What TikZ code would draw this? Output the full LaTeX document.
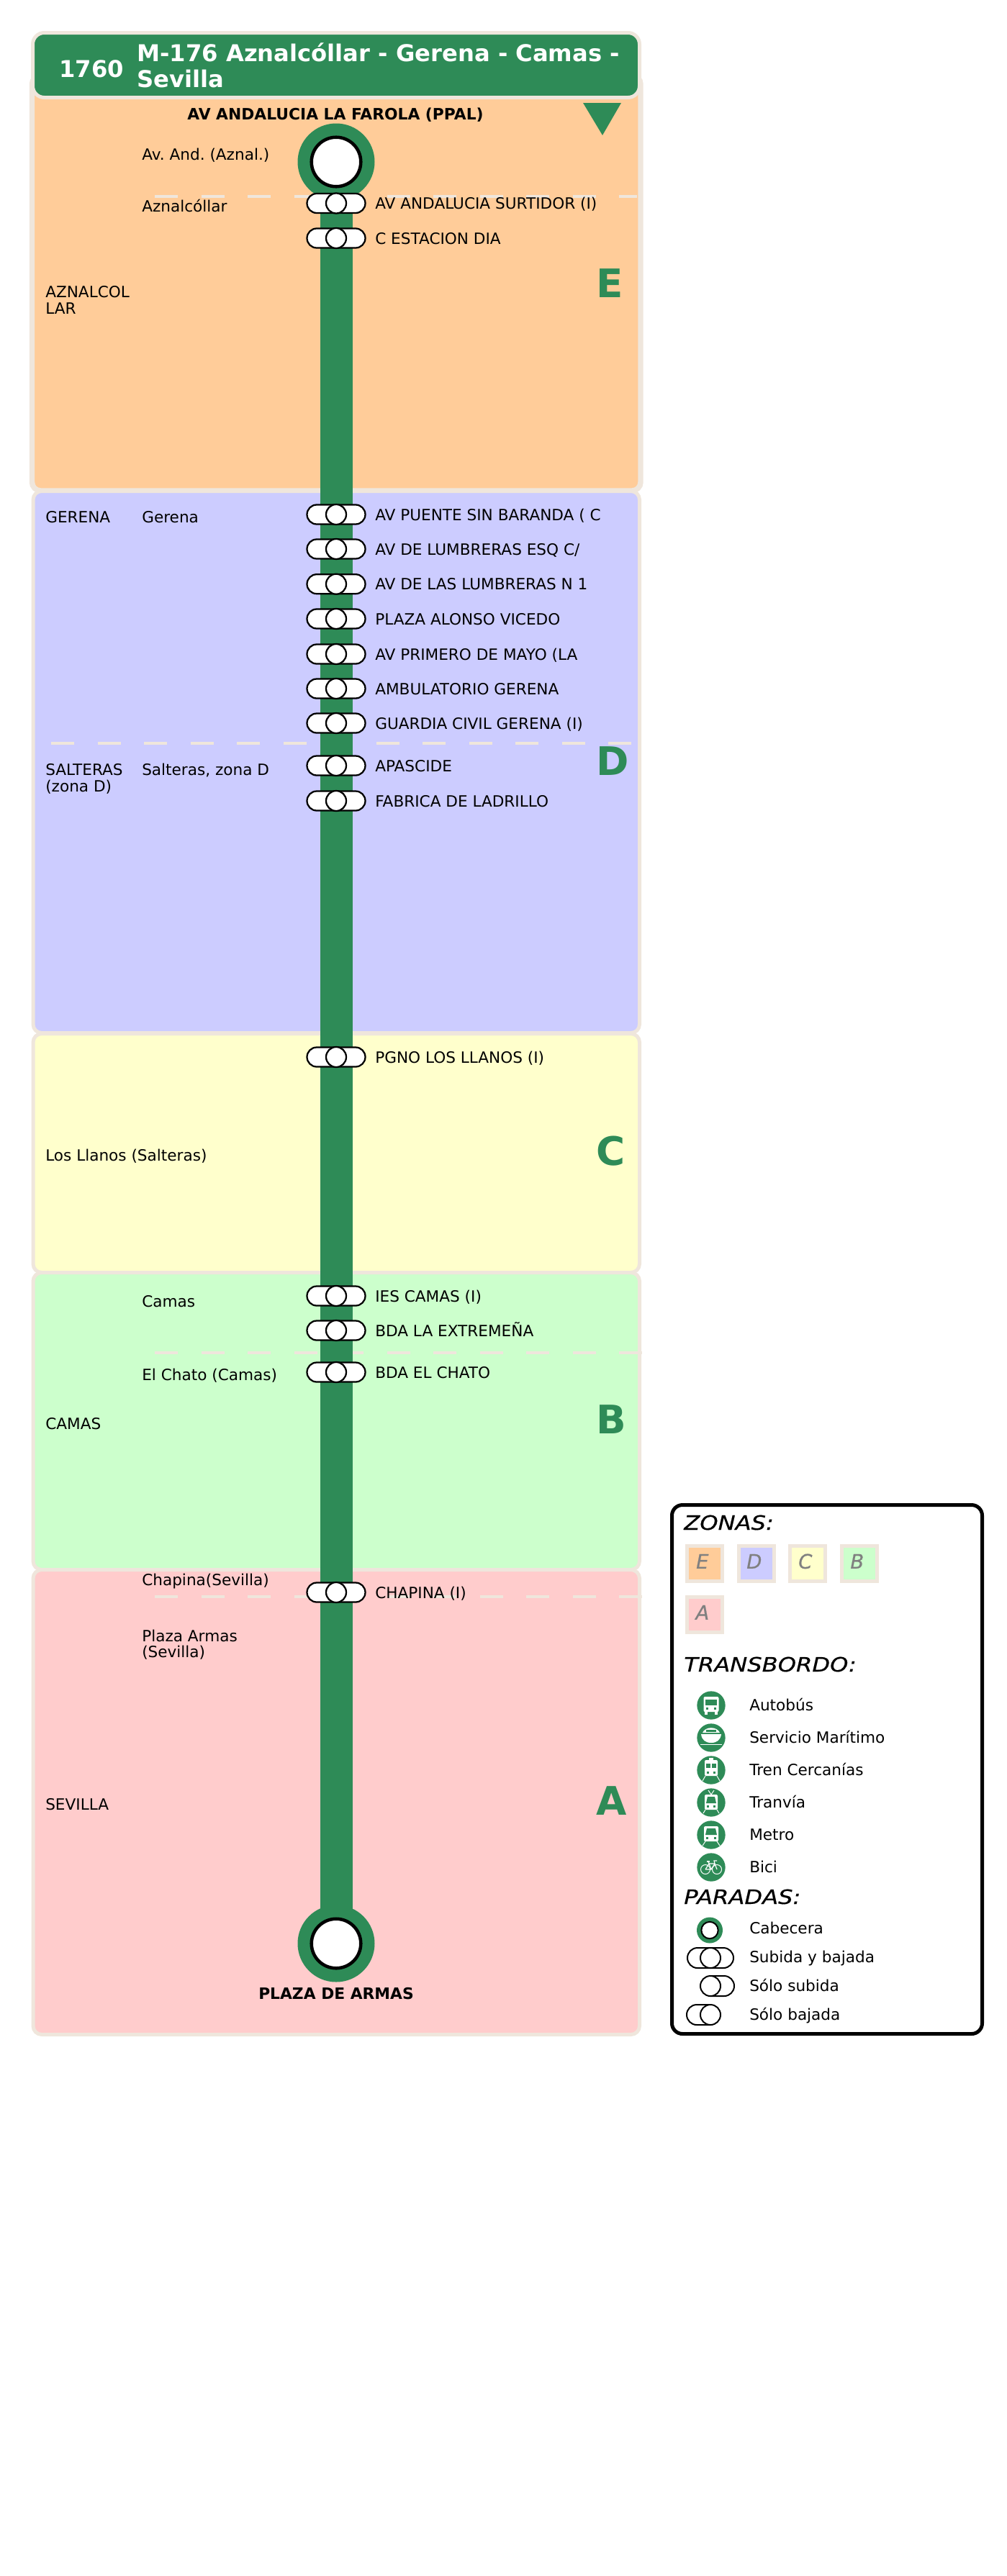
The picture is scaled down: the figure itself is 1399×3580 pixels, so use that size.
\documentclass[tikz,border=0pt]{standalone}
\usepackage{fontspec}
\setmainfont{DejaVu Sans}
\newfontface\legendface{DejaVu Sans Oblique}[FakeBold=0.5]
\usetikzlibrary{shapes.misc}
\definecolor{linegreen}{HTML}{2E8B57}
\definecolor{zoneedge}{HTML}{EFE6DC}
\definecolor{zoneE}{HTML}{FFCC99}
\definecolor{zoneD}{HTML}{CCCCFF}
\definecolor{zoneC}{HTML}{FFFFCC}
\definecolor{zoneB}{HTML}{CCFFCC}
\definecolor{zoneA}{HTML}{FFCCCC}
\tikzset{
    zonebox/.style={draw=zoneedge,line width=3.75pt,rounded corners=9pt},
    zonedash/.style={draw=zoneedge,line width=3pt,dash pattern=on 24pt off 24.4pt},
    spine/.style={draw=linegreen,line width=33.75pt},
    termdisc/.style={circle,fill=linegreen,inner sep=0pt,minimum size=80.25pt},
    termring/.style={circle,draw=black,fill=white,line width=3.4pt,inner sep=0pt,minimum size=51.4pt},
    stoppill/.style={rounded rectangle,draw=black,fill=white,line width=1.7pt,inner sep=0pt,minimum width=60.75pt,minimum height=20.25pt},
    stopring/.style={circle,draw=black,fill=white,line width=1.7pt,inner sep=0pt,minimum size=21pt},
    smalltext/.style={inner sep=0pt,anchor=base west,align=left,font=\fontsize{16.2}{17.6}\selectfont\frenchspacing},
    boldtext/.style={inner sep=0pt,anchor=base,font=\fontsize{16.35}{17.6}\selectfont\bfseries\frenchspacing},
    hugeletter/.style={inner sep=0pt,anchor=base west,text=linegreen,font=\fontsize{41}{41}\selectfont\bfseries},
    headtext/.style={inner sep=0pt,anchor=base west,align=left,text=white,font=\fontsize{24.15}{26.5}\selectfont\bfseries},
    legendhead/.style={inner sep=0pt,anchor=base west,xscale=1.17,font=\fontsize{20.6}{20.6}\legendface},
    legendzone/.style={draw=zoneedge,line width=3.75pt,minimum size=36.75pt,inner sep=0pt},
    legendletter/.style={inner sep=0pt,text=gray,font=\fontsize{20.6}{20.6}\legendface},
    transfer/.style={circle,fill=linegreen,inner sep=0pt,minimum size=29.5pt},
    legendpill/.style={rounded rectangle,draw=black,line width=1.5pt,inner sep=0pt,minimum height=21pt},
    legendring/.style={circle,draw=black,fill=white,line width=1.5pt,inner sep=0pt,minimum size=21pt},
    busicon/.pic={
        \fill[white,rounded corners=1.5pt] (-10.5,-12) rectangle (10.5,9);
        \fill[linegreen] (-8,-8) rectangle (8,0);
        \fill[linegreen] (-7,3) rectangle (-4,6);
        \fill[linegreen] (4,3) rectangle (7,6);
        \fill[white] (-9,9) rectangle (-5,13);
        \fill[white] (5,9) rectangle (9,13);
    },
    boaticon/.pic={
        \fill[white] (-12,-7) .. controls (-8,-16) and (8,-16) .. (12,-7) -- cycle;
        \fill[linegreen] (-7,-11) rectangle (7,-8);
        \fill[white] (-14,-5) -- (14,-5) .. controls (13,3) and (8,7) .. (0,7) .. controls (-8,7) and (-13,3) .. (-14,-5) -- cycle;
        \draw[white,line width=0.75pt] (-15,9) -- (15,9);
    },
    trainicon/.pic={
        \fill[white,rounded corners=1.5pt] (-9,-14) rectangle (9,8);
        \fill[white] (-3,-17) rectangle (3,-14);
        \fill[linegreen] (-7,-9) rectangle (-1,-3);
        \fill[linegreen] (1,-9) rectangle (7,-3);
        \fill[linegreen] (-6,2) rectangle (-3,5);
        \fill[linegreen] (3,2) rectangle (6,5);
        \draw[white,line width=0.75pt] (-8,8) -- (-12,15);
        \draw[white,line width=0.75pt] (8,8) -- (12,15);
    },
    tramicon/.pic={
        \fill[white,rounded corners=1.5pt] (-9,-11) rectangle (9,10);
        \draw[white,line width=0.75pt] (-4,-17) -- (0,-11) -- (4,-17);
        \fill[linegreen] (-5,-8) -- (5,-8) -- (7,1) -- (-7,1) -- cycle;
        \fill[linegreen] (-6,4) rectangle (-3,7);
        \fill[linegreen] (3,4) rectangle (6,7);
        \draw[white,line width=0.75pt] (-8,10) -- (-11,15);
        \draw[white,line width=0.75pt] (8,10) -- (11,15);
    },
    metroicon/.pic={
        \fill[white,rounded corners=1.5pt] (-10,-12) rectangle (10,9);
        \fill[linegreen] (-6,-9) -- (6,-9) -- (8,0) -- (-8,0) -- cycle;
        \fill[linegreen] (-7,3) rectangle (-4,6);
        \fill[linegreen] (4,3) rectangle (7,6);
        \draw[white,line width=0.75pt] (-8,9) -- (-12,15);
        \draw[white,line width=0.75pt] (8,9) -- (12,15);
    },
    bikeicon/.pic={
        \draw[white,line width=0.75pt] (-8,3) circle (6.5);
        \draw[white,line width=0.75pt] (8,3) circle (6.5);
        \draw[white,line width=0.9pt] (-8,3) -- (-3,-5) -- (5,-5) -- (8,3);
        \draw[white,line width=0.9pt] (-8,3) -- (0,3) -- (5,-5);
        \draw[white,line width=0.9pt] (0,3) -- (-4,-8);
        \draw[white,line width=0.9pt] (-6,-8) -- (-2,-8);
        \draw[white,line width=0.9pt] (5,-5) -- (4,-9) -- (8,-9);
    }
}
\begin{document}
\begin{tikzpicture}[x=0.75pt,y=-0.75pt]
    \useasboundingbox (0,0) rectangle (1399,3580);

    \draw[zonebox,fill=zoneE,line width=5.6pt] (44.5,105) rectangle (890,682);
    \draw[zonebox,fill=zoneD] (46,682.5) rectangle (888.5,1435.5);
    \draw[zonebox,fill=zoneC] (46,1436.5) rectangle (888.5,1768.5);
    \draw[zonebox,fill=zoneB] (46,1768.5) rectangle (888.5,2181.5);
    \draw[zonebox,fill=zoneA] (46,2181.5) rectangle (888.5,2827.5);

    \foreach \xa/\y/\xb in {215/273/885,71/1033/879,215/1880/893,215/2219/893}
        \draw[zonedash] (\xa,\y) -- (\xb,\y);

    \draw[zonebox,fill=linegreen,rounded corners=12pt] (45.5,45.5) rectangle (888.5,135.5);
    \node[headtext] (linecode) at (82,107) {1760};
    \node[headtext] (linename) at (190,121) {M-176 Aznalcóllar - Gerena - Camas -\\Sevilla};

    \fill[linegreen] (810,143) -- (863,143) -- (837,188) -- cycle;

    \node[termdisc] (termtop) at (467,225) {};
    \node[termdisc] (termbot) at (467,2701) {};
    \draw[spine] (termtop.center) -- (termbot.center);
    \node[termring] (ringtop) at (termtop) {};
    \node[termring] (ringbot) at (termbot) {};
    \node[boldtext] (nametop) at (466,166) {AV ANDALUCIA LA FAROLA (PPAL)};
    \node[boldtext] (namebot) at (467,2778) {PLAZA DE ARMAS};

    \foreach \n/\y/\name in {
        1/282.5/{AV ANDALUCIA SURTIDOR (I)},
        2/331/{C ESTACION DIA},
        3/715/{AV PUENTE SIN BARANDA ( C},
        4/763/{AV DE LUMBRERAS ESQ C/},
        5/811.7/{AV DE LAS LUMBRERAS N 1},
        6/860/{PLAZA ALONSO VICEDO},
        7/909/{AV PRIMERO DE MAYO (LA},
        8/957/{AMBULATORIO GERENA},
        9/1005/{GUARDIA CIVIL GERENA (I)},
        10/1064/{APASCIDE},
        11/1113/{FABRICA DE LADRILLO},
        12/1469/{PGNO LOS LLANOS (I)},
        13/1801/{IES CAMAS (I)},
        14/1849/{BDA LA EXTREMEÑA},
        15/1907/{BDA EL CHATO},
        16/2213/{CHAPINA (I)}} {
        \node[stoppill] (pill\n) at (467,\y) {};
        \node[stopring] (ring\n) at (pill\n) {};
        \node[smalltext] (name\n) at (521,\y+8) {\name};
    }

    \foreach \n/\x/\y/\name in {
        a/197/222/{Av. And. (Aznal.)},
        b/197/294/{Aznalcóllar},
        c/197/726/{Gerena},
        d/197/1077/{Salteras, zona D},
        e/197/1816/{Camas},
        f/197/1918/{El Chato (Camas)},
        g/197/2203/{Chapina(Sevilla)},
        h/197/2281/{Plaza Armas},
        i/197/2303/{(Sevilla)},
        j/63/413/{AZNALCOL},
        k/63/436/{LAR},
        l/63/726/{GERENA},
        m/63/1077/{SALTERAS},
        o/63/1100/{(zona D)},
        p/63/1613/{Los Llanos (Salteras)},
        q/63/1986/{CAMAS},
        r/63/2515/{SEVILLA}}
        \node[smalltext] (place\n) at (\x,\y) {\name};

    \foreach \z/\y in {E/413,D/1077,C/1619,B/1992,A/2522}
        \node[hugeletter] (letter\z) at (828,\y) {\z};

    \draw[black,line width=3.75pt,rounded corners=11pt] (933.5,2091.5) rectangle (1364.5,2826.5);
    \node[legendhead] (headzonas) at (950,2126) {ZONAS:};
    \node[legendhead] (headtransbordo) at (950,2323) {TRANSBORDO:};
    \node[legendhead] (headparadas) at (950,2646) {PARADAS:};

    \foreach \z/\x/\y in {E/978.5/2172.5,D/1050.5/2172.5,C/1121.5/2172.5,B/1193.5/2172.5,A/978.5/2243.5} {
        \node[legendzone,fill=zone\z] (legend\z) at (\x,\y) {};
        \node[legendletter] (legendtext\z) at ([xshift=-2pt,yshift=2pt]legend\z) {\z};
    }

    \foreach \n/\y/\name in {bus/2370/Autobús,boat/2415/Servicio Marítimo,train/2460/Tren Cercanías,tram/2505/Tranvía,metro/2550/Metro,bike/2595/Bici} {
        \node[transfer] (icon\n) at (988,\y) {};
        \pic at (icon\n) {\n icon};
        \node[smalltext] (label\n) at (1041,\y+7) {\name};
    }

    \node[circle,fill=linegreen,inner sep=0pt,minimum size=27pt] (legcab) at (986,2682.5) {};
    \node[legendring,minimum size=17.5pt] (legcabring) at (legcab) {};
    \node[smalltext] (labelcab) at (1041,2687) {Cabecera};

    \node[legendpill,minimum width=48pt] (legboth) at (987,2721) {};
    \node[legendring] (legbothring) at (legboth) {};
    \node[smalltext] (labelboth) at (1041,2727) {Subida y bajada};

    \node[legendpill,rounded rectangle west arc=none,minimum width=24pt] (legup) at (1004,2760) {};
    \node[legendring] (legupring) at (987,2760) {};
    \node[smalltext] (labelup) at (1041,2767) {Sólo subida};

    \node[legendpill,rounded rectangle east arc=none,minimum width=24pt] (legdown) at (970,2800) {};
    \node[legendring] (legdownring) at (987,2800) {};
    \node[smalltext] (labeldown) at (1041,2807) {Sólo bajada};
\end{tikzpicture}
\end{document}
